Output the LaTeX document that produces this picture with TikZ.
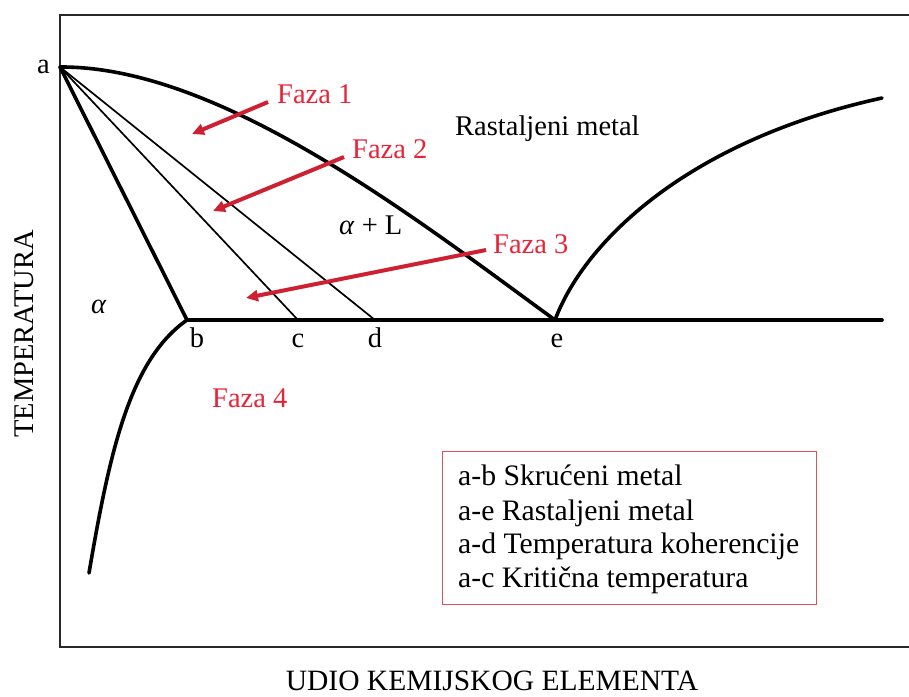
\documentclass[tikz,border=0pt]{standalone}
\usepackage{fontspec}
\setmainfont{Liberation Serif}
\usetikzlibrary{arrows.meta}
\definecolor{fazared}{RGB}{232,36,56}
\definecolor{arrred}{RGB}{205,32,48}
\definecolor{boxred}{RGB}{222,80,90}
\definecolor{framegray}{RGB}{40,40,40}
\tikzset{
  lbl/.style={inner sep=0pt, anchor=base west, font=\fontsize{28.5}{34}\selectfont},
  leglbl/.style={lbl, font=\fontsize{29.7}{34}\selectfont},
  fazalbl/.style={lbl, text=fazared},
  thickcurve/.style={line width=3.6pt, line cap=round, line join=round},
  thinline/.style={line width=1.7pt},
  fazaarrow/.style={arrred, line width=4pt, -{Triangle[length=12pt,width=11pt]}},
  framestyle/.style={framegray, line width=2.4pt}
}
\begin{document}
\begin{tikzpicture}[x=1pt,y=-1pt]
\useasboundingbox (0,0) rectangle (909,696);
% frame
\coordinate (tl) at (60,15);
\coordinate (bl) at (60,647);
\coordinate (tr) at (912,15);
\coordinate (br) at (912,647);
\draw[framestyle] (tr) -- (tl) -- (bl) -- (br);
% key points
\coordinate (a) at (60,67);
\coordinate (b) at (187,320);
\coordinate (c) at (298,320);
\coordinate (d) at (375,320);
\coordinate (e) at (555,320);
\coordinate (hend) at (882,320);
\coordinate (rend) at (882,98);
\coordinate (send) at (89,573);
% curves
\draw[thickcurve] (a) .. controls (220,66) and (415,218) .. (e);
\draw[thickcurve] (e) .. controls (585,240) and (690,140) .. (rend);
\draw[thickcurve] (a) -- (b);
\draw[thinline] (a) -- (c);
\draw[thinline] (a) -- (d);
\draw[thickcurve] (b) -- (hend);
\draw[thickcurve] (b) .. controls (130,360) and (110,450) .. (send);
% point labels
\node[lbl] (la) at (37,73) {a};
\node[lbl, anchor=base] (lb) at (197,347) {b};
\node[lbl, anchor=base] (lc) at (298,347) {c};
\node[lbl, anchor=base] (ld) at (375,347) {d};
\node[lbl, anchor=base] (le) at (557,347) {e};
% region labels
\node[lbl] (melt) at (455,135) {Rastaljeni metal};
\node[lbl] (aL) at (339,234) {\textit{α} + L};
\node[lbl] (alpha) at (91,313) {\textit{α}};
% faza labels
\node[fazalbl] (f1) at (277,103) {Faza 1};
\node[fazalbl] (f2) at (352,158) {Faza 2};
\node[fazalbl] (f3) at (493,253) {Faza 3};
\node[fazalbl] (f4) at (212,407) {Faza 4};
% faza arrows
\coordinate (f1s) at (268,102);
\coordinate (f1e) at (192,134);
\coordinate (f2s) at (344,157);
\coordinate (f2e) at (213,211);
\coordinate (f3s) at (486,250);
\coordinate (f3e) at (246,298);
\draw[fazaarrow] (f1s) -- (f1e);
\draw[fazaarrow] (f2s) -- (f2e);
\draw[fazaarrow] (f3s) -- (f3e);
% legend
\node[draw=boxred, line width=1.3pt, inner sep=0pt, minimum width=374pt, minimum height=153pt, anchor=north west] (legend) at (442,451) {};
\node[leglbl] (l1) at (458,485) {a-b Skrućeni metal};
\node[leglbl] (l2) at (458,520) {a-e Rastaljeni metal};
\node[leglbl] (l3) at (458,553) {a-d Temperatura koherencije};
\node[leglbl] (l4) at (458,587) {a-c Kritična temperatura};
% axis titles
\node[lbl, anchor=base, rotate=90] (yt) at (33,334) {TEMPERATURA};
\node[lbl, anchor=base, font=\fontsize{29.5}{34}\selectfont] (xt) at (492,690) {UDIO KEMIJSKOG ELEMENTA};
\end{tikzpicture}
\end{document}
